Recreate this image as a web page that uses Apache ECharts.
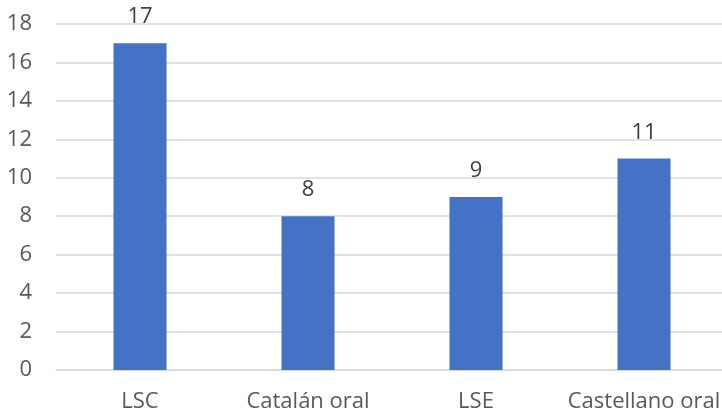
<!DOCTYPE html>
<html><head><meta charset="utf-8">
<script src="https://cdn.jsdelivr.net/npm/echarts@6/dist/echarts.min.js"></script>
<style>html,body{margin:0;padding:0;background:#fff;overflow:hidden}#c{width:730px;height:415px}</style>
</head><body><div id="c"></div>
<script>
const categories = ['LSC', 'Catalán oral', 'LSE', 'Castellano oral'];
const values = [17, 8, 9, 11];
const yTicks = {min: 0, max: 18, interval: 2};

const chart = echarts.init(document.getElementById('c'), null, {renderer: 'canvas'});
const font = '"Open Sans", sans-serif';
chart.setOption({
  animation: false,
  grid: {left: 56, top: 24, width: 672, height: 346},
  xAxis: {
    type: 'category', data: categories,
    axisLine: {lineStyle: {color: '#d9d9d9', width: 1.5}},
    axisTick: {show: false},
    axisLabel: {color: '#595959', fontSize: 22, fontFamily: font, margin: 21, interval: 0, hideOverlap: false}
  },
  yAxis: {
    type: 'value', min: yTicks.min, max: yTicks.max, interval: yTicks.interval,
    axisLine: {show: false}, axisTick: {show: false},
    splitLine: {lineStyle: {color: '#d9d9d9', width: 1.5}},
    axisLabel: {color: '#595959', fontSize: 22, fontFamily: font, margin: 24}
  },
  series: [{
    type: 'bar', data: values, barWidth: 53,
    itemStyle: {color: '#4472c4'},
    label: {show: true, position: 'top', distance: 15, color: '#404040', fontSize: 22, fontFamily: font}
  }]
});
</script></body></html>
